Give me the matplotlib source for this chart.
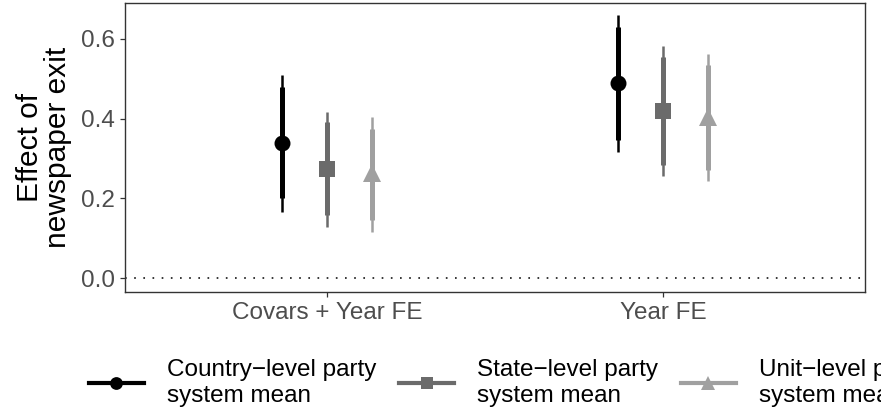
import numpy as np
import matplotlib.pyplot as plt
from matplotlib.lines import Line2D

plt.rcParams['font.family'] = ['Liberation Sans', 'DejaVu Sans']

# model specifications on the x axis
models = ['Covars + Year FE', 'Year FE']
series = ['Country\u2212level party\nsystem mean',
          'State\u2212level party\nsystem mean',
          'Unit\u2212level party\nsystem mean']
colors = ['#000000', '#6b6b6b', '#a0a0a0']
markers = ['o', 's', '^']
msizes = [11.5, 11, 13]

# point estimates, rows = series, cols = models
est = [[0.339, 0.490],
       [0.273, 0.419],
       [0.263, 0.404]]
# inner intervals (thick)
lo_in = [[0.200, 0.346], [0.158, 0.284], [0.146, 0.271]]
hi_in = [[0.480, 0.630], [0.392, 0.555], [0.374, 0.535]]
# outer intervals (thin)
lo_out = [[0.166, 0.316], [0.128, 0.256], [0.116, 0.243]]
hi_out = [[0.510, 0.660], [0.417, 0.582], [0.404, 0.562]]

fig = plt.figure(figsize=(8.81, 4.11), dpi=100)
ax = fig.add_axes([125 / 881, 1 - 292 / 411, 740 / 881, 289 / 411])

offsets = [-0.133, 0, 0.133]
for s in range(3):
    x = np.arange(1, 3) + offsets[s]
    ax.vlines(x, lo_out[s], hi_out[s], color=colors[s], lw=1.8)
    ax.vlines(x, lo_in[s], hi_in[s], color=colors[s], lw=3.6)
    ax.plot(x, est[s], ls='none', marker=markers[s], color=colors[s], ms=msizes[s], mew=0)

ax.axhline(0, color='black', lw=1.1, dashes=(1.1, 4.9))
ax.set_xlim(0.4, 2.6)
ax.set_ylim(-0.035, 0.690)
ax.set_xticks([1, 2])
ax.set_xticklabels(models)
ax.set_yticks([0.0, 0.2, 0.4, 0.6])
ax.set_yticklabels(['0.0', '0.2', '0.4', '0.6'])
ax.tick_params(labelsize=17.5, color='#333333', labelcolor='#4d4d4d', length=3.6, width=0.9, pad=3.6)
for sp in ax.spines.values():
    sp.set_color('#333333')
    sp.set_linewidth(1)
ax.set_ylabel('Effect of\nnewspaper exit', fontsize=21.5, linespacing=1.0)
ax.yaxis.set_label_coords(-0.072, 0.5)

handles = [Line2D([], [], color=colors[s], lw=3, marker=markers[s], ms=msizes[s] * 0.8, mew=0)
           for s in range(3)]
fig.legend(handles, series, loc='center left', bbox_to_anchor=(89 / 881, 1 - 383 / 411),
           ncol=3, frameon=False, fontsize=17.5, handlelength=2.25, borderpad=0,
           borderaxespad=0, columnspacing=0.95, handletextpad=0.95, labelspacing=0.15)

fig.savefig('out.png', dpi=100)
